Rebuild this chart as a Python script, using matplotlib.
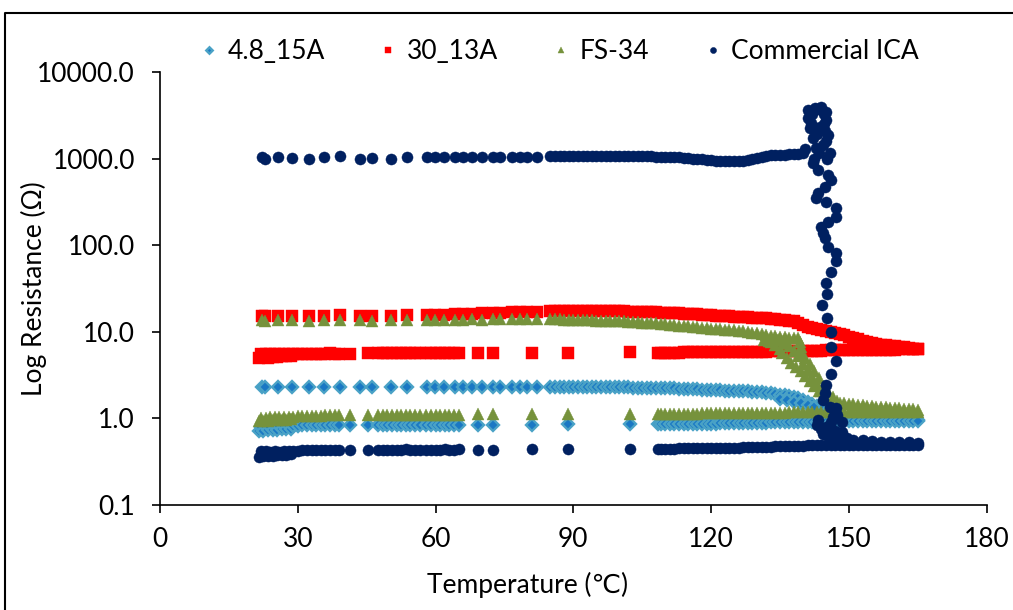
import matplotlib
matplotlib.use("Agg")
import matplotlib.pyplot as plt
from matplotlib.lines import Line2D
from matplotlib.ticker import FixedLocator, FuncFormatter, NullLocator

plt.rcParams['font.family'] = ['Lato', 'DejaVu Sans']

# ---- upper branch (first pass), shared temperature grid up to 139 C ----
temp_up = [22.2, 22.9, 25.7, 28.7, 32.4, 35.7, 39.2, 43.5, 46.1, 50.3, 53.8,
           58.1, 59.9, 61.8, 64.2, 66.0, 67.9, 70.1, 72.5, 74.0, 76.6, 78.4, 79.9, 82.1,
           85, 86, 87, 88, 89, 90, 91, 92, 93, 94, 95, 96, 97, 98, 99, 100,
           101, 102, 103, 104, 105, 106, 107, 108, 109, 110,
           111, 112, 113, 114, 115, 116, 117, 118, 119, 120,
           121, 122, 123, 124, 125, 126, 127, 128, 129, 130,
           131, 132, 133, 134, 135, 136, 137, 138, 139]

blue_up = [2.30, 2.29, 2.31, 2.30, 2.29, 2.30, 2.31, 2.30, 2.29, 2.30, 2.31,
           2.30, 2.31, 2.30, 2.30, 2.31, 2.30, 2.30, 2.31, 2.30, 2.30, 2.31, 2.30, 2.30,
           2.31, 2.31, 2.30, 2.31, 2.30, 2.30, 2.31, 2.30, 2.30, 2.30, 2.29, 2.30, 2.29, 2.29, 2.29, 2.28,
           2.28, 2.28, 2.27, 2.27, 2.26, 2.26, 2.25, 2.25, 2.24, 2.24,
           2.23, 2.22, 2.21, 2.20, 2.19, 2.18, 2.17, 2.15, 2.14, 2.13,
           2.12, 2.11, 2.10, 2.09, 2.08, 2.07, 2.06, 2.05, 2.04, 2.03,
           2.01, 1.99, 1.96, 1.93, 1.89, 1.85, 1.80, 1.75, 1.70]

red_up = [15.3, 15.2, 15.4, 15.3, 15.2, 15.4, 15.8, 15.3, 15.2, 15.3, 15.6,
          15.6, 15.7, 15.8, 15.9, 16.0, 16.2, 16.4, 16.5, 16.6, 16.8, 16.9, 17.0, 17.1,
          17.2, 17.2, 17.3, 17.3, 17.3, 17.4, 17.4, 17.4, 17.3, 17.3, 17.4, 17.3, 17.3, 17.3, 17.2, 17.2,
          17.2, 17.1, 17.1, 17.0, 17.0, 16.9, 16.8, 16.8, 16.7, 16.6,
          16.5, 16.4, 16.3, 16.2, 16.1, 16.0, 15.9, 15.8, 15.7, 15.5,
          15.4, 15.3, 15.2, 15.1, 15.0, 14.9, 14.8, 14.7, 14.6, 14.5,
          14.4, 14.3, 14.1, 14.0, 13.8, 13.6, 13.4, 13.2, 12.6]

green_up = [13.6, 13.4, 13.7, 13.6, 13.5, 13.7, 13.6, 13.7, 13.5, 13.6, 13.6,
            13.6, 13.7, 13.8, 13.7, 13.8, 13.9, 13.8, 13.9, 13.9, 14.0, 13.9, 14.0, 14.0,
            13.9, 13.9, 13.9, 13.8, 13.8, 13.8, 13.7, 13.7, 13.6, 13.6, 13.5, 13.5, 13.4, 13.4, 13.3, 13.3,
            13.2, 13.1, 13.0, 12.9, 12.8, 12.7, 12.6, 12.5, 12.4, 12.2,
            12.1, 12.0, 11.8, 11.7, 11.6, 11.4, 11.3, 11.1, 11.0, 10.9,
            10.8, 10.7, 10.6, 10.5, 10.4, 10.3, 10.2, 10.0, 9.8, 9.6,
            9.4, 9.2, 9.0, 8.9, 8.8, 8.7, 8.6, 8.6, 8.5]

ica_up = [1040, 1000, 1050, 1010, 980, 1050, 1070, 1000, 1010, 1000, 1050,
          1040, 1050, 1030, 1040, 1050, 1040, 1050, 1050, 1040, 1050, 1040, 1050, 1050,
          1060, 1070, 1060, 1070, 1070, 1070, 1080, 1070, 1070, 1080, 1070, 1070, 1080, 1070, 1070, 1070,
          1070, 1070, 1070, 1060, 1060, 1060, 1060, 1050, 1050, 1050,
          1040, 1040, 1030, 1020, 1010, 1000, 990, 980, 970, 960,
          950, 945, 940, 935, 930, 935, 945, 960, 990, 1020,
          1050, 1070, 1090, 1100, 1110, 1110, 1120, 1120, 1130]

# ---- upper branch above 139 C (transition region) ----
blue_end_t = [140, 141, 142, 143, 144, 145, 146, 147, 148, 149, 150, 151, 152,
              153, 154, 155, 156, 157, 158, 159, 160, 161, 162, 163, 164, 165,
              135, 136.5, 138, 139.5, 141, 142.5]
blue_end_r = [1.62, 1.54, 1.46, 1.38, 1.29, 1.20, 1.11, 1.04, 1.00, 0.99, 0.98, 0.98, 0.97,
              0.97, 0.97, 0.97, 0.96, 0.96, 0.96, 0.96, 0.96, 0.96, 0.96, 0.96, 0.96, 0.96,
              1.68, 1.62, 1.56, 1.50, 1.43, 1.36]

red_end_t = [140, 141, 142, 143, 144, 145, 146, 147, 148, 149, 150, 151, 152,
             153, 154, 155, 156, 157, 158, 159, 160, 161, 162, 163, 164, 165]
red_end_r = [11.9, 11.5, 11.1, 10.8, 10.5, 10.2, 9.9, 9.7, 9.4, 9.1, 8.8, 8.5, 8.2,
             7.9, 7.6, 7.4, 7.2, 7.1, 7.0, 6.9, 6.8, 6.7, 6.6, 6.5, 6.4, 6.3]

green_end_t = [139.4, 139.5, 139.6, 140.5, 141.5, 142.5, 143.5, 144.5, 145.5, 146.5, 147.5,
               131.5, 132.5, 133, 134, 135, 135.5, 136.5, 137.5, 138.5, 139.5, 140.5, 141.5,
               142.5, 143.5, 144.5,
               134.5, 136, 137, 138, 139, 140, 141, 142, 143, 144,
               148, 149, 150, 151, 152, 153, 154, 155, 156, 157, 158, 159, 160,
               161, 162, 163, 164, 165]
green_end_r = [7.6, 6.6, 5.8, 5.0, 4.2, 3.5, 2.9, 2.4, 2.0, 1.75, 1.6,
               8.0, 7.8, 7.6, 7.0, 6.3, 5.7, 5.0, 4.4, 3.9, 3.5, 3.1, 2.7,
               2.35, 2.05, 1.8,
               8.0, 7.4, 6.8, 6.0, 5.2, 4.3, 3.6, 3.0, 2.5, 2.1,
               1.52, 1.49, 1.47, 1.45, 1.43, 1.42, 1.40, 1.39, 1.37, 1.36, 1.35, 1.33, 1.32,
               1.31, 1.30, 1.28, 1.27, 1.26]

ica_end_t = [140.0, 140.5, 141.1, 142.6, 144.0, 145.1, 141.1, 145.1, 141.5, 143.7, 145.5,
             142.2, 144.4, 145.8, 142.9, 142.2, 143.3, 145.5, 146.2, 144.8, 143.3, 142.9,
             145.1, 147.3, 147.3, 145.5, 144.0, 144.4, 144.8, 145.5, 147.3, 147.3, 146.2,
             145.1, 145.3, 144.2, 145.3, 146.2, 146.2, 147.3, 146.2, 145.1, 144.8, 144.4,
             145.8, 147.3, 146.6, 143.3, 145.1, 144.4, 146.6,
             142.0, 143.5, 144.5, 141.8, 144.6, 143.0, 144.9, 145.0, 143.5, 145.2, 142.5,
             143.0, 144.0, 146.0, 147.5, 148.5, 147.0, 145.5, 148.5,
             148.0, 149.5, 151, 153, 155, 157, 159, 161, 163, 165]
ica_end_r = [1150, 1300, 3640, 3810, 3980, 3490, 2920, 2790, 2240, 2340, 1870,
             1710, 1440, 1150, 1320, 883, 738, 647, 566, 474, 398, 348,
             318, 267, 214, 187, 164, 137, 120, 96, 81, 65, 49,
             36.9, 27.3, 20.4, 14.3, 10.0, 6.7, 4.6, 3.26, 2.43, 1.95, 1.63,
             1.36, 1.31, 1.05, 0.96, 0.80, 0.67, 0.64,
             3300, 3700, 3300, 2600, 2500, 1900, 2100, 1600, 1150, 1000, 1000,
             0.85, 0.75, 0.90, 1.10, 0.90, 0.72, 0.62, 0.70,
             0.62, 0.59, 0.57, 0.56, 0.55, 0.54, 0.54, 0.53, 0.53, 0.52]

# ---- lower branch (second pass) ----
temp_low = [21.5, 22.0, 22.5, 23.0, 23.5, 24.0, 24.5, 25.0, 25.5, 26.0, 26.5, 27.0, 27.5, 28.0, 28.5, 29.0,
            30, 31, 32, 33, 34, 35, 36, 37, 38, 39,
            41.4, 45.3,
            47.5, 48.5, 49.5, 50.5, 51.5, 52.5, 53.5, 54.5, 55.5, 56.5,
            57.9,
            59, 60, 61, 62, 63, 64, 65,
            69.2, 72.5, 81.0, 88.8, 102.3,
            108.4, 109, 110, 111, 112, 113, 114, 115, 116, 117,
            118, 119, 120, 121, 122, 123, 124, 125, 126, 127,
            128, 129, 130, 131, 132, 133, 134, 135, 136, 137,
            138, 139, 140, 141, 142, 143, 144, 145, 146, 147,
            148, 149, 150, 151, 152, 153, 154, 155, 156, 157,
            158, 159, 160, 161, 162, 163, 164, 165]

blue_low = [0.72, 0.80, 0.72, 0.80, 0.73, 0.80, 0.73, 0.81, 0.74, 0.81, 0.75, 0.82, 0.75, 0.82, 0.76, 0.82,
            0.82, 0.83, 0.83, 0.83, 0.83, 0.84, 0.83, 0.84, 0.84, 0.84,
            0.84, 0.84,
            0.84, 0.84, 0.84, 0.85, 0.84, 0.85, 0.85, 0.84, 0.85, 0.85,
            0.85,
            0.85, 0.85, 0.85, 0.85, 0.85, 0.85, 0.85,
            0.85, 0.85, 0.85, 0.86, 0.86,
            0.86, 0.86, 0.86, 0.86, 0.86, 0.86, 0.86, 0.87, 0.87, 0.87,
            0.87, 0.87, 0.87, 0.87, 0.88, 0.88, 0.88, 0.88, 0.88, 0.88,
            0.89, 0.89, 0.89, 0.89, 0.89, 0.90, 0.90, 0.90, 0.90, 0.90,
            0.91, 0.91, 0.91, 0.91, 0.91, 0.92, 0.92, 0.92, 0.92, 0.92,
            0.92, 0.93, 0.93, 0.93, 0.93, 0.93, 0.93, 0.93, 0.93, 0.93,
            0.94, 0.94, 0.94, 0.94, 0.94, 0.94, 0.94, 0.94]

red_low = [5.0, 5.6, 5.1, 5.6, 5.0, 5.5, 5.1, 5.6, 5.1, 5.5, 5.2, 5.6, 5.2, 5.6, 5.3, 5.6,
           5.5, 5.6, 5.6, 5.6, 5.6, 5.6, 5.6, 5.7, 5.6, 5.6,
           5.6, 5.7,
           5.7, 5.7, 5.7, 5.7, 5.7, 5.7, 5.7, 5.7, 5.7, 5.7,
           5.7,
           5.7, 5.7, 5.7, 5.7, 5.7, 5.7, 5.7,
           5.7, 5.7, 5.7, 5.7, 5.8,
           5.75, 5.75, 5.76, 5.76, 5.77, 5.77, 5.78, 5.78, 5.79, 5.79,
           5.80, 5.80, 5.81, 5.81, 5.82, 5.83, 5.84, 5.85, 5.86, 5.87,
           5.88, 5.89, 5.90, 5.91, 5.92, 5.93, 5.94, 5.95, 5.96, 5.97,
           5.98, 5.99, 6.00, 6.02, 6.04, 6.06, 6.08, 6.10, 6.12, 6.14,
           6.15, 6.16, 6.17, 6.18, 6.19, 6.20, 6.21, 6.22, 6.23, 6.24,
           6.24, 6.25, 6.25, 6.26, 6.26, 6.27, 6.27, 6.28]

green_low = [0.93, 1.02, 0.94, 1.02, 0.94, 1.03, 0.95, 1.03, 0.95, 1.04, 0.96, 1.04, 0.97, 1.05, 0.98, 1.05,
             1.06, 1.07, 1.07, 1.08, 1.08, 1.08, 1.09, 1.09, 1.09, 1.09,
             1.10, 1.10,
             1.10, 1.10, 1.10, 1.10, 1.10, 1.10, 1.10, 1.10, 1.10, 1.10,
             1.10,
             1.10, 1.10, 1.11, 1.11, 1.11, 1.11, 1.11,
             1.12, 1.12, 1.12, 1.12, 1.13,
             1.13, 1.13, 1.13, 1.13, 1.13, 1.14, 1.14, 1.14, 1.14, 1.14,
             1.15, 1.15, 1.15, 1.15, 1.15, 1.15, 1.16, 1.16, 1.16, 1.16,
             1.16, 1.16, 1.17, 1.17, 1.17, 1.17, 1.17, 1.17, 1.17, 1.18,
             1.18, 1.18, 1.18, 1.18, 1.18, 1.18, 1.18, 1.19, 1.19, 1.19,
             1.19, 1.19, 1.19, 1.19, 1.19, 1.19, 1.19, 1.20, 1.20, 1.20,
             1.20, 1.20, 1.20, 1.20, 1.20, 1.20, 1.20, 1.20]

ica_low = [0.36, 0.42, 0.37, 0.42, 0.37, 0.41, 0.37, 0.42, 0.38, 0.41, 0.38, 0.42, 0.38, 0.42, 0.39, 0.42,
           0.42, 0.43, 0.43, 0.43, 0.43, 0.43, 0.43, 0.43, 0.43, 0.43,
           0.43, 0.43,
           0.43, 0.43, 0.43, 0.43, 0.43, 0.43, 0.44, 0.43, 0.43, 0.43,
           0.43,
           0.43, 0.43, 0.43, 0.44, 0.43, 0.43, 0.44,
           0.43, 0.43, 0.44, 0.44, 0.44,
           0.44, 0.44, 0.44, 0.44, 0.44, 0.45, 0.45, 0.45, 0.45, 0.45,
           0.45, 0.45, 0.46, 0.46, 0.46, 0.46, 0.46, 0.46, 0.46, 0.47,
           0.47, 0.47, 0.47, 0.47, 0.47, 0.47, 0.48, 0.48, 0.48, 0.48,
           0.48, 0.48, 0.48, 0.49, 0.49, 0.49, 0.49, 0.49, 0.49, 0.49,
           0.50, 0.50, 0.50, 0.50, 0.50, 0.50, 0.50, 0.50, 0.50, 0.50,
           0.50, 0.50, 0.50, 0.50, 0.50, 0.50, 0.50, 0.50]

labels = ['4.8_15A', '30_13A', 'FS-34', 'Commercial ICA']

fig = plt.figure(figsize=(10.13, 6.10), dpi=100)
ax = fig.add_axes([0.158, 0.172, 0.816, 0.710])

blue_kw = dict(ls='none', marker='D', ms=6.0, mfc='#1a78c4', mec='#4aa2c6', mew=1.7, zorder=2)
red_kw = dict(ls='none', marker='s', ms=8.2, mfc='#ff0000', mec='#ff0000', mew=0.3, zorder=3)
green_kw = dict(ls='none', marker='^', ms=8.4, mfc='#76923c', mec='#76923c', mew=0.3, zorder=4)
ica_kw = dict(ls='none', marker='o', ms=8.0, mfc='#002060', mec='#002060', mew=0.3, zorder=5)

h1, = ax.plot(temp_up, blue_up, label=labels[0], **blue_kw)
ax.plot(blue_end_t, blue_end_r, **blue_kw)
ax.plot(temp_low, blue_low, **blue_kw)

h2, = ax.plot(temp_up, red_up, label=labels[1], **red_kw)
ax.plot(red_end_t, red_end_r, **red_kw)
ax.plot(temp_low, red_low, **red_kw)

h3, = ax.plot(temp_up, green_up, label=labels[2], **green_kw)
ax.plot(green_end_t, green_end_r, **green_kw)
ax.plot(temp_low, green_low, **green_kw)

h4, = ax.plot(temp_up, ica_up, label=labels[3], **ica_kw)
ax.plot(ica_end_t, ica_end_r, **ica_kw)
ax.plot(temp_low, ica_low, **ica_kw)

ax.set_yscale('log')
ax.set_xlim(0, 180)
ax.set_ylim(0.1, 10000)
ax.set_xticks([0, 30, 60, 90, 120, 150, 180])
ax.yaxis.set_major_locator(FixedLocator([0.1, 1, 10, 100, 1000, 10000]))
ax.yaxis.set_minor_locator(NullLocator())
ax.yaxis.set_major_formatter(FuncFormatter(lambda v, p: '%.1f' % v))

for s in ['top', 'right']:
    ax.spines[s].set_visible(False)
for s in ['left', 'bottom']:
    ax.spines[s].set_linewidth(1.2)
ax.tick_params(axis='both', direction='out', length=6, width=1.2, labelsize=19)
ax.tick_params(axis='y', pad=12)
ax.tick_params(axis='x', pad=10)

ax.set_ylabel('Log Resistance (Ω)', fontsize=19)
ax.set_xlabel('Temperature (℃)', fontsize=19)
ax.yaxis.set_label_coords(-0.137, 0.5)
ax.xaxis.set_label_coords(0.444, -0.155)

fig.legend(handles=[h1, h2, h3, h4], loc='center', bbox_to_anchor=(0.553, 0.915),
           ncol=4, frameon=False, fontsize=19, markerscale=0.55, handlelength=0.6,
           handletextpad=0.4, columnspacing=2.1)

# outer chart frame (runs off the right and bottom edges)
fig.add_artist(Line2D([5 / 1013, 5 / 1013, 1.0], [0.0, 1 - 13 / 610, 1 - 13 / 610],
                      transform=fig.transFigure, color='black', lw=1.5))

fig.savefig('out.png', dpi=100)
